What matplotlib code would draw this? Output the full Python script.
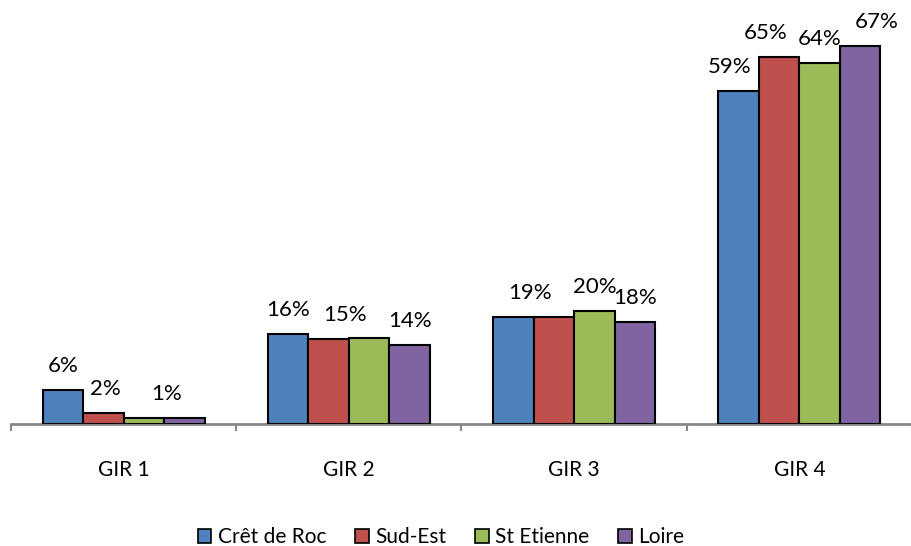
import numpy as np
import matplotlib.pyplot as plt
from matplotlib.patches import Patch

plt.rcParams['font.family'] = ['Lato', 'DejaVu Sans']

# GIR shares per area (%)
categories = ['GIR 1', 'GIR 2', 'GIR 3', 'GIR 4']
series_names = ['Crêt de Roc', 'Sud-Est', 'St Etienne', 'Loire']
cret_de_roc = [6, 16, 19, 59]
sud_est = [2, 15, 19, 65]
st_etienne = [1, 15.3, 20, 64]
loire = [1, 14, 18, 67]
values = [cret_de_roc, sud_est, st_etienne, loire]

colors = ['#4F81BD', '#C0504D', '#9BBB59', '#8064A2']

# horizontal nudge (pixels) of each data label, None = no label
label_dx = [
    [0, 0, 17, -9],
    [2, 16, None, -13],
    [None, None, 0, 0],
    [-18, 0, 0, 16],
]

fig = plt.figure(figsize=(9.12, 5.46), dpi=100)
ax = fig.add_axes([11 / 912, 122 / 546, 901 / 912, 423 / 546])

x = np.arange(len(categories))
w = 0.18
for i, (vals, col) in enumerate(zip(values, colors)):
    xs = x + (i - 1.5) * w
    ax.bar(xs, vals, w, color=col, edgecolor='black', linewidth=1.5, zorder=3)
    for j, v in enumerate(vals):
        dx = label_dx[i][j]
        if dx is None:
            continue
        ax.annotate(f'{v:.0f}%', (xs[j], v), xytext=(dx, 24),
                    textcoords='offset pixels', ha='center', va='center',
                    fontsize=16, color='black')

ax.set_xlim(-0.5, 3.5)
ax.set_ylim(0, 75)
for s in ['left', 'top', 'right']:
    ax.spines[s].set_visible(False)
ax.spines['bottom'].set_color('#878787')
ax.spines['bottom'].set_linewidth(2)
ax.set_yticks([])

ax.set_xticks(np.arange(-0.5, 4, 1))
ax.set_xticklabels([])
ax.tick_params(axis='x', which='major', direction='out', length=5,
               width=1.5, color='#878787')
ax.set_xticks(x, minor=True)
ax.set_xticklabels(categories, minor=True, fontsize=15)
ax.tick_params(axis='x', which='minor', length=0, pad=26)

handles = [Patch(facecolor=c, edgecolor='black', linewidth=1.2) for c in colors]
fig.legend(handles, series_names, loc='center', bbox_to_anchor=(441 / 912, 9 / 546),
           ncol=4, frameon=False, fontsize=15, handlelength=0.65, handleheight=0.65,
           handletextpad=0.3, columnspacing=1.4, borderpad=0)

fig.savefig('out.png', dpi=100)
